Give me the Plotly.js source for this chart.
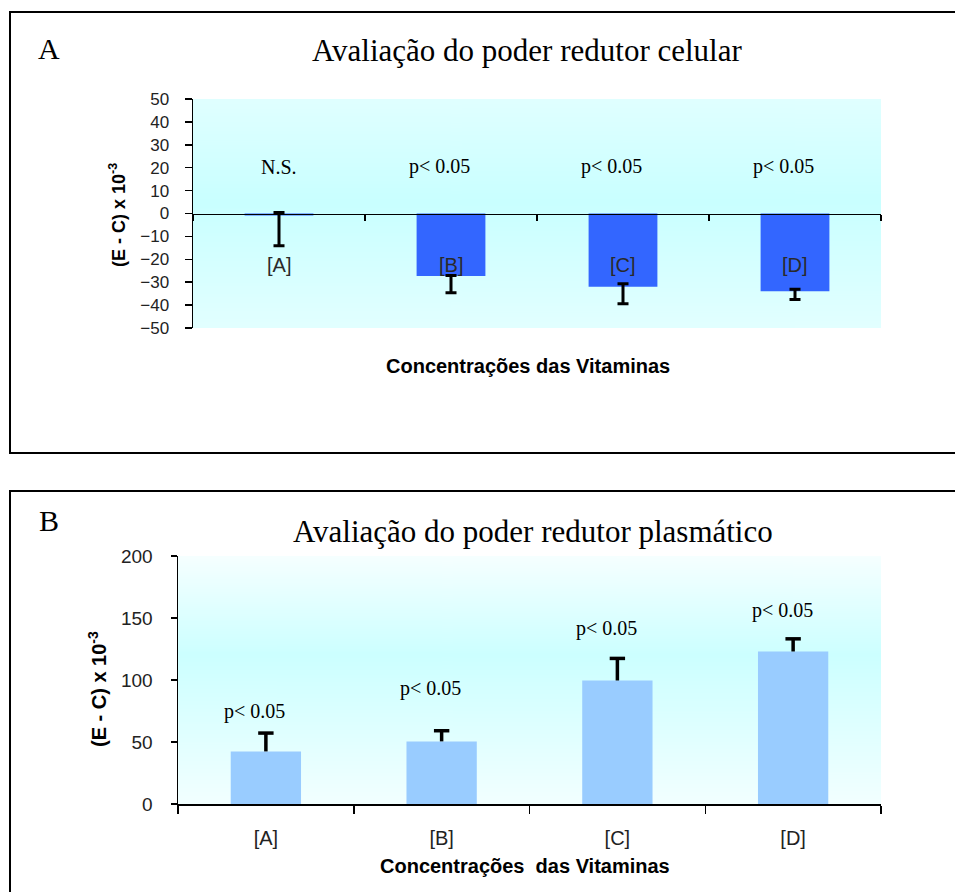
<!DOCTYPE html>
<html><head><meta charset="utf-8">
<script src="https://cdn.plot.ly/plotly-3.0.1.min.js"></script>
<style>html,body{margin:0;padding:0;background:#fff;}#chart{width:955px;height:892px;}</style>
</head><body><div id="chart"></div>
<script>
// ---- data ----
const categories = ['[A]', '[B]', '[C]', '[D]'];
const cellValues = [-0.9, -27.3, -32.0, -34.0];
const cellErrPlus = [1.3, 0.2, 1.3, 0.9];
const cellErrMinus = [13.2, 7.3, 7.4, 3.6];
const cellSignif = ['N.S.', 'p< 0.05', 'p< 0.05', 'p< 0.05'];
const cellSignifY = [20.5, 20.5, 20.5, 20.5];
const cellCatLabelY = [-22.5, -22.5, -22.5, -22.5];
const plasmaValues = [42.4, 50.5, 99.6, 123.0];
const plasmaErrPlus = [14.8, 8.6, 17.8, 10.2];
const plasmaSignif = ['p< 0.05', 'p< 0.05', 'p< 0.05', 'p< 0.05'];
const plasmaSignifY = [75, 93, 141.5, 156];
const cellRange = [-50, 50];
const plasmaRange = [0, 200];

// ---- helpers ----
const W = 955, H = 892;
const X = p => p / W, Y = p => 1 - p / H;
const SERIF = "'Liberation Serif', 'Times New Roman', serif";
const SANS = "'Liberation Sans', Arial, sans-serif";
function grad(stops) {
  const c = document.createElement('canvas'); c.width = 4; c.height = 256;
  const g = c.getContext('2d'); const lg = g.createLinearGradient(0, 0, 0, 256);
  stops.forEach(s => lg.addColorStop(s[0], s[1]));
  g.fillStyle = lg; g.fillRect(0, 0, 4, 256); return c.toDataURL('image/png');
}

const domA = {x: [X(193), X(881)], y: [Y(328), Y(99)]};
const domB = {x: [X(178), X(881)], y: [Y(804), Y(556)]};
const zeroPosA = domA.y[0] + (0 - cellRange[0]) / (cellRange[1] - cellRange[0]) * (domA.y[1] - domA.y[0]);

const traces = [
  {type: 'bar', x: categories, y: cellValues, xaxis: 'x', yaxis: 'y',
   marker: {color: '#3366ff', line: {width: 0}},
   error_y: {type: 'data', symmetric: false, array: cellErrPlus, arrayminus: cellErrMinus,
             color: '#000', thickness: 3, width: 5.5},
   hoverinfo: 'x+y'},
  {type: 'bar', x: categories, y: plasmaValues, xaxis: 'x2', yaxis: 'y2',
   marker: {color: '#99ccff', line: {width: 0}}, hoverinfo: 'x+y'},
  {type: 'scatter', mode: 'markers', x: categories,
   y: plasmaValues.map((v, i) => v + plasmaErrPlus[i]), xaxis: 'x2', yaxis: 'y2',
   marker: {symbol: 'line-ew', size: 11, color: '#000', line: {width: 3.5, color: '#000'}},
   error_y: {type: 'data', symmetric: false, array: plasmaErrPlus.map(() => 0),
             arrayminus: plasmaErrPlus, color: '#000', thickness: 3.5, width: 0},
   hoverinfo: 'skip'}
];

const annotations = [];
cellSignif.forEach((t, i) => annotations.push({
  text: t, x: categories[i], y: cellSignifY[i], xref: 'x', yref: 'y', showarrow: false,
  xshift: t.startsWith('p') ? -12 : 0, font: {family: SERIF, size: 20, color: '#000'}}));
categories.forEach((t, i) => annotations.push({
  text: t, x: t, y: cellCatLabelY[i], xref: 'x', yref: 'y', showarrow: false,
  font: {family: SANS, size: 20, color: '#2a2a2a'}}));
plasmaSignif.forEach((t, i) => annotations.push({
  text: t, x: categories[i], y: plasmaSignifY[i], xref: 'x2', yref: 'y2', showarrow: false,
  xshift: -11, font: {family: SERIF, size: 20, color: '#000'}}));
const fixedText = [
  {text: 'A', x: 49, y: 49, font: {family: SERIF, size: 30}},
  {text: 'Avaliação do poder redutor celular', x: 527, y: 50, font: {family: SERIF, size: 31}},
  {text: 'B', x: 49, y: 520, font: {family: SERIF, size: 30}},
  {text: 'Avaliação do poder redutor plasmático', x: 533, y: 531, font: {family: SERIF, size: 31}},
  {text: '<b>Concentrações das Vitaminas</b>', x: 528, y: 366, font: {family: SANS, size: 20}},
  {text: '<b>Concentrações  das Vitaminas</b>', x: 525, y: 866, font: {family: SANS, size: 20}},
  {text: '<b>(E - C) x 10<sup>-3</sup></b>', x: 118, y: 215, textangle: -90, font: {family: SANS, size: 18}},
  {text: '<b>(E - C) x 10<sup>-3</sup></b>', x: 97, y: 689, textangle: -90, font: {family: SANS, size: 20}}
];
fixedText.forEach(a => annotations.push({
  text: a.text, x: X(a.x), y: Y(a.y), xref: 'paper', yref: 'paper', showarrow: false,
  xanchor: 'center', yanchor: 'middle', textangle: a.textangle || 0,
  font: Object.assign({color: '#000'}, a.font)}));

const axisCommon = {showline: true, linecolor: '#000', linewidth: 1.5, ticks: 'outside',
  tickcolor: '#000', tickwidth: 1.5, showgrid: false, zeroline: false, fixedrange: true};

const layout = {
  width: W, height: H, margin: {l: 0, r: 0, t: 0, b: 0},
  paper_bgcolor: '#fff', plot_bgcolor: 'rgba(0,0,0,0)', showlegend: false, bargap: 0.6,
  xaxis: Object.assign({}, axisCommon, {domain: domA.x, type: 'category', anchor: 'free',
    position: zeroPosA, range: [-0.5, 3.5], tickson: 'boundaries', ticklen: 6, showticklabels: false}),
  yaxis: Object.assign({}, axisCommon, {domain: domA.y, anchor: 'x', range: cellRange, tick0: 0, dtick: 10,
    ticklen: 7, ticklabelstandoff: 12, tickfont: {family: SANS, size: 17, color: '#222'}}),
  xaxis2: Object.assign({}, axisCommon, {domain: domB.x, type: 'category', anchor: 'y2',
    range: [-0.5, 3.5], tickson: 'boundaries', ticklen: 8, ticklabelstandoff: 15,
    tickfont: {family: SANS, size: 20, color: '#222'}}),
  yaxis2: Object.assign({}, axisCommon, {domain: domB.y, anchor: 'x2', range: plasmaRange, tick0: 0, dtick: 50,
    ticklen: 6, ticklabelstandoff: 14, tickfont: {family: SANS, size: 19, color: '#222'}}),
  images: [
    {source: grad([[0, '#e0ffff'], [0.45, '#c9ffff'], [1, '#e2ffff']]), xref: 'paper', yref: 'paper',
     x: domA.x[0], y: domA.y[1], sizex: domA.x[1] - domA.x[0], sizey: domA.y[1] - domA.y[0],
     sizing: 'stretch', xanchor: 'left', yanchor: 'top', layer: 'below'},
    {source: grad([[0, '#f6ffff'], [0.4, '#ccffff'], [1, '#f2ffff']]), xref: 'paper', yref: 'paper',
     x: domB.x[0], y: domB.y[1], sizex: domB.x[1] - domB.x[0], sizey: domB.y[1] - domB.y[0],
     sizing: 'stretch', xanchor: 'left', yanchor: 'top', layer: 'below'}
  ],
  shapes: [
    {type: 'rect', xref: 'paper', yref: 'paper', x0: X(10), x1: 1.02, y0: Y(453), y1: Y(12),
     line: {color: '#000', width: 2}, fillcolor: 'rgba(0,0,0,0)'},
    {type: 'rect', xref: 'paper', yref: 'paper', x0: X(10), x1: 1.02, y0: -0.05, y1: Y(491),
     line: {color: '#000', width: 2}, fillcolor: 'rgba(0,0,0,0)'}
  ],
  annotations: annotations
};

Plotly.newPlot('chart', traces, layout, {displayModeBar: false, staticPlot: true});
</script></body></html>
